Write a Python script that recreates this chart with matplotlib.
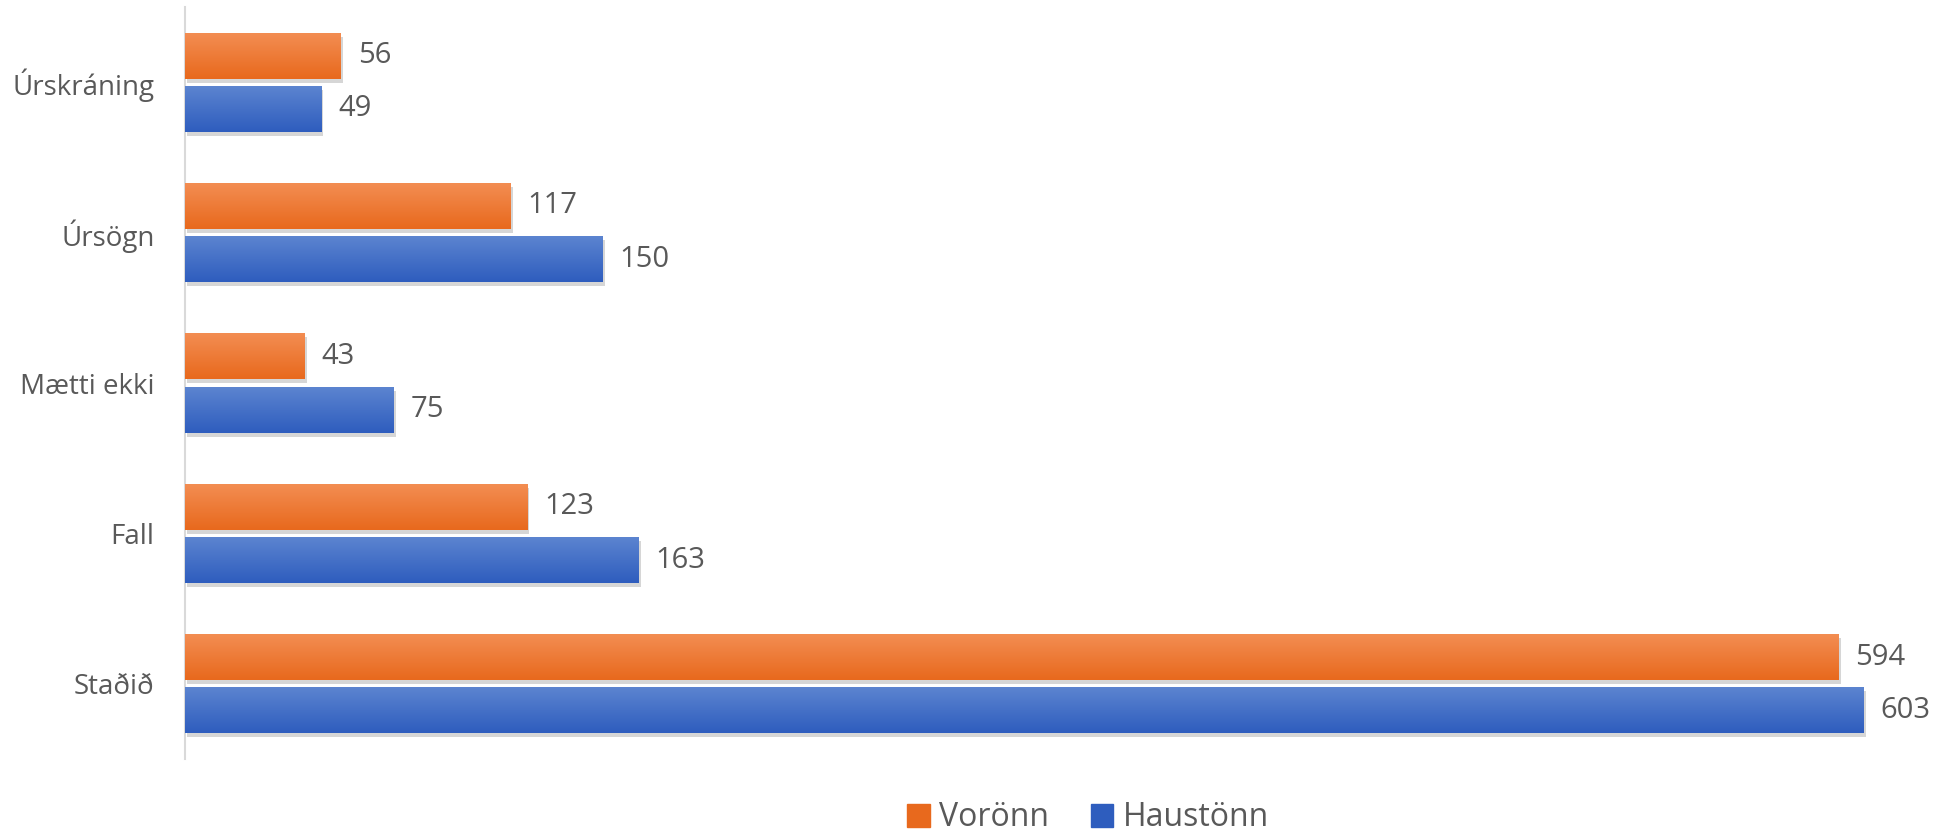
import numpy as np
import matplotlib; matplotlib.use("Agg")
import matplotlib.pyplot as plt
import matplotlib.transforms as mtransforms
from matplotlib.colors import LinearSegmentedColormap
from matplotlib.patches import Patch

plt.rcParams["font.family"] = ["Open Sans", "DejaVu Sans"]

# gögn
categories = ["Staðið", "Fall", "Mætti ekki", "Úrsögn", "Úrskráning"]
vor = [594, 123, 43, 117, 56]
haust = [603, 163, 75, 150, 49]
series_names = ["Vorönn", "Haustönn"]

ORANGE = ("#F38D52", "#E8691D")
BLUE = ("#5C84D0", "#2E5DBE")
TXT = "#595959"

fig = plt.figure(figsize=(19.38, 8.34), dpi=100)
ax = fig.add_axes([185/1938, 1-759/834, 1726/1938, (759-7)/834])

y = np.arange(len(categories))
h = 0.305
off = 0.177

def grad_bars(vals, ypos, cols):
    cmap = LinearSegmentedColormap.from_list("g", [cols[1], cols[0]])
    # skuggi
    sh = ax.barh(ypos, vals, height=h, color="#000000", alpha=0.16, zorder=1)
    shift = ax.transData + mtransforms.ScaledTranslation(2/100, -4/100, fig.dpi_scale_trans)
    for p in sh:
        p.set_transform(shift)
    bars = ax.barh(ypos, vals, height=h, color=cols[0], zorder=2)
    g = np.linspace(0, 1, 64).reshape(-1, 1)
    for p in bars:
        x0, y0 = p.get_x(), p.get_y()
        im = ax.imshow(g, cmap=cmap, aspect="auto", origin="lower",
                       extent=[x0, x0 + p.get_width(), y0, y0 + p.get_height()], zorder=3)
        im.set_clip_path(p)
    for v, yy in zip(vals, ypos):
        ax.text(v + 6, yy, str(v), va="center", ha="left", fontsize=21, color=TXT, zorder=4)
    return bars

grad_bars(vor, y + off, ORANGE)
grad_bars(haust, y - off, BLUE)

ax.set_xlim(0, 620)
ax.set_ylim(-0.5, 4.5)
ax.set_yticks(y)
ax.set_yticklabels(categories, fontsize=20, color=TXT)
ax.tick_params(axis="y", length=0, pad=22)
ax.set_xticks([])
for s in ["top", "right", "bottom"]:
    ax.spines[s].set_visible(False)
ax.spines["left"].set_color("#D9D9D9")
ax.spines["left"].set_linewidth(1.5)

handles = [Patch(color=ORANGE[1]), Patch(color=BLUE[1])]
fig.legend(handles, series_names, loc="center", bbox_to_anchor=(1088/1938, 1-818/834),
           ncol=2, frameon=False, fontsize=23, labelcolor=TXT,
           handlelength=0.7, handleheight=0.7, handletextpad=0.3, columnspacing=1.3)

fig.savefig("out.png", dpi=100)
